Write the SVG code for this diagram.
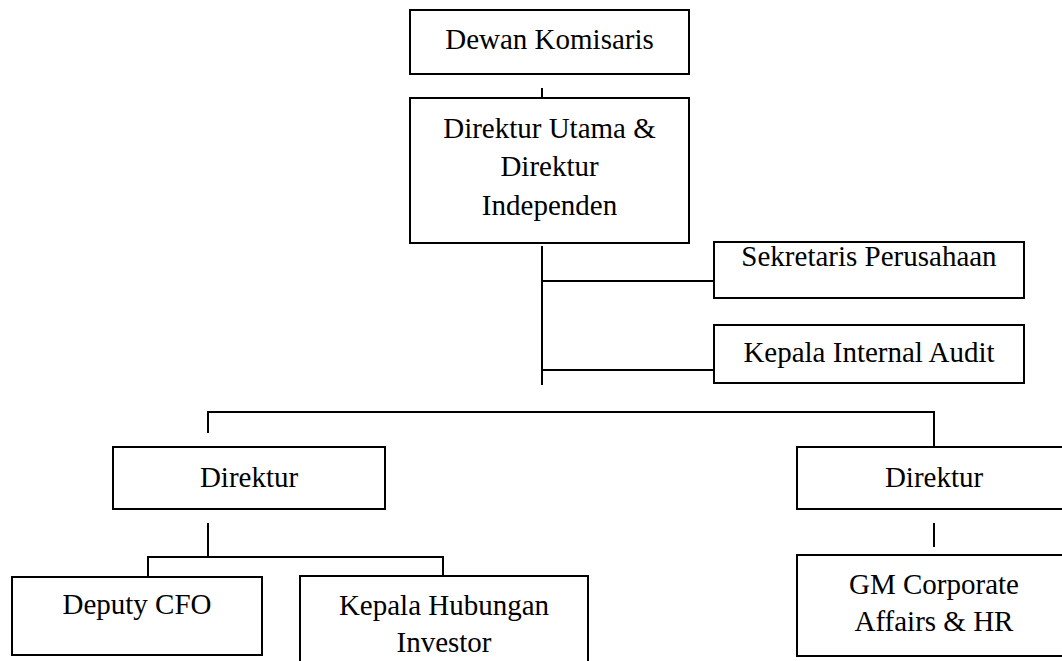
<svg xmlns="http://www.w3.org/2000/svg" width="1062" height="661" viewBox="0 0 1062 661">
  <style>
    .box { fill: #ffffff; stroke: #000000; stroke-width: 2; }
    .lbl { font-family: "Liberation Serif", "Times New Roman", serif; font-size: 29px; fill: #000000; text-anchor: middle; }
    .conn line { stroke: #000000; stroke-width: 2; }
  </style>
  <rect width="1062" height="661" fill="#ffffff"/>

  <!-- connectors -->
  <g id="connectors" class="conn">
    <line x1="542" y1="88" x2="542" y2="98"/>
    <line x1="542" y1="246" x2="542" y2="385"/>
    <line x1="542" y1="281" x2="714" y2="281"/>
    <line x1="542" y1="370" x2="714" y2="370"/>
    <line x1="207" y1="412" x2="935" y2="412"/>
    <line x1="208" y1="411" x2="208" y2="433"/>
    <line x1="934" y1="411" x2="934" y2="447"/>
    <line x1="208" y1="523" x2="208" y2="557"/>
    <line x1="147" y1="557" x2="444" y2="557"/>
    <line x1="148" y1="556" x2="148" y2="577"/>
    <line x1="443" y1="556" x2="443" y2="576"/>
    <line x1="934" y1="523" x2="934" y2="547"/>
  </g>

  <g id="dewan-komisaris">
    <rect class="box" x="410" y="10" width="279" height="64"/>
    <text class="lbl" x="549.5" y="49">Dewan Komisaris</text>
  </g>

  <g id="direktur-utama">
    <rect class="box" x="410" y="98" width="279" height="145"/>
    <text class="lbl" x="549.5" y="137.5">Direktur Utama &amp;</text>
    <text class="lbl" x="549.5" y="176">Direktur</text>
    <text class="lbl" x="549.5" y="214.5">Independen</text>
  </g>

  <g id="sekretaris-perusahaan">
    <rect class="box" x="714" y="242" width="310" height="56"/>
    <text class="lbl" x="869" y="266">Sekretaris Perusahaan</text>
  </g>

  <g id="kepala-internal-audit">
    <rect class="box" x="714" y="325" width="310" height="58"/>
    <text class="lbl" x="869" y="362">Kepala Internal Audit</text>
  </g>

  <g id="direktur-kiri">
    <rect class="box" x="113" y="447" width="272" height="62"/>
    <text class="lbl" x="249" y="487">Direktur</text>
  </g>

  <g id="direktur-kanan">
    <rect class="box" x="797" y="447" width="274" height="62"/>
    <text class="lbl" x="934" y="487">Direktur</text>
  </g>

  <g id="deputy-cfo">
    <rect class="box" x="12" y="577" width="250" height="78"/>
    <text class="lbl" x="137" y="614">Deputy CFO</text>
  </g>

  <g id="kepala-hubungan-investor">
    <rect class="box" x="300" y="576" width="288" height="120"/>
    <text class="lbl" x="444" y="614.5">Kepala Hubungan</text>
    <text class="lbl" x="444" y="652">Investor</text>
  </g>

  <g id="gm-corporate-affairs">
    <rect class="box" x="797" y="555" width="274" height="101"/>
    <text class="lbl" x="934" y="594">GM Corporate</text>
    <text class="lbl" x="934" y="631">Affairs &amp; HR</text>
  </g>
</svg>
